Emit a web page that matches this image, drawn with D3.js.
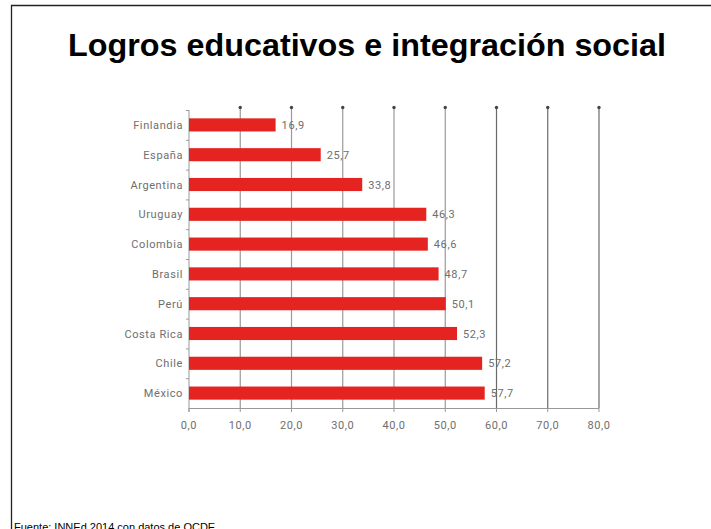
<!DOCTYPE html>
<html>
<head>
<meta charset="utf-8">
<script src="https://cdn.jsdelivr.net/npm/d3@7"></script>
<style>
  body { margin: 0; background: #fff; }
  svg { display: block; }
</style>
</head>
<body>
<svg width="711" height="529"></svg>
<script>
// datos
const countries = ["Finlandia", "España", "Argentina", "Uruguay", "Colombia", "Brasil", "Perú", "Costa Rica", "Chile", "México"]
const values = [16.9, 25.7, 33.8, 46.3, 46.6, 48.7, 50.1, 52.3, 57.2, 57.7]
const xTicks = [0, 10, 20, 30, 40, 50, 60, 70, 80]

const svg = d3.select('svg')
const fmt = v => d3.format('.1f')(v).replace('.', ',')

// marco de la diapositiva
svg.append('path')
    .attr('d', 'M11.5,529 V5.5 H711')
    .attr('fill', 'none')
    .attr('stroke', '#222')
    .attr('stroke-width', 1.3)

svg.append('text')
    .attr('x', 367)
    .attr('y', 56)
    .attr('text-anchor', 'middle')
    .attr('font-family', 'Liberation Sans, Arial, sans-serif')
    .attr('font-weight', 'bold')
    .attr('font-size', 30.5)
    .attr('textLength', 598)
    .attr('lengthAdjust', 'spacingAndGlyphs')
    .text('Logros educativos e integración social')

// la nota de fuente queda cortada por el borde inferior, como en el original
svg.append('text')
    .attr('x', 14)
    .attr('y', 530.5)
    .attr('font-family', 'Liberation Sans, Arial, sans-serif')
    .attr('font-size', 11)
    .text('Fuente: INNEd 2014 con datos de OCDE')

const x = d3.scaleLinear().domain([0, 80]).range([189, 599])
const y = d3.scaleBand().domain(countries).range([110, 408]).paddingInner(0.56).paddingOuter(0.28)
const yAxisScale = d3.scaleBand().domain(countries).range([110, 408])

const grey = '#6e6e6e'
const font = 'Roboto, "DejaVu Sans", sans-serif'

// lineas verticales con punto arriba
const grid = svg.append('g')
grid.selectAll('line')
    .data(xTicks.filter(d => d > 0))
    .enter()
    .append('line')
    .attr('x1', d => x(d)).attr('x2', d => x(d))
    .attr('y1', 107.5).attr('y2', 408)
    .attr('stroke', d => d >= 60 ? '#6a6a6a' : '#9a9a9a')
    .attr('stroke-width', 1.2)
grid.selectAll('circle')
    .data(xTicks.filter(d => d > 0))
    .enter()
    .append('circle')
    .attr('cx', d => x(d))
    .attr('cy', 107.5)
    .attr('r', 1.7)
    .attr('fill', '#444')

// eje y con marcas entre categorias
const yAx = svg.append('g')
yAx.append('line')
    .attr('x1', 189).attr('x2', 189)
    .attr('y1', 110).attr('y2', 412)
    .attr('stroke', '#999').attr('stroke-width', 1)
yAx.selectAll('line.tk')
    .data(countries)
    .enter()
    .append('line')
    .attr('class', 'tk')
    .attr('x1', 186).attr('x2', 189)
    .attr('y1', d => yAxisScale(d) + 0.5).attr('y2', d => yAxisScale(d) + 0.5)
    .attr('stroke', '#999')
yAx.selectAll('text')
    .data(countries)
    .enter()
    .append('text')
    .attr('x', 183)
    .attr('y', d => yAxisScale(d) + yAxisScale.bandwidth() / 2 + 4)
    .attr('text-anchor', 'end')
    .attr('font-family', font)
    .attr('font-size', 11)
    .attr('letter-spacing', 0.6)
    .attr('fill', grey)
    .text(d => d)

// eje x
const xAx = svg.append('g')
xAx.append('line')
    .attr('x1', 189).attr('x2', 599)
    .attr('y1', 408.5).attr('y2', 408.5)
    .attr('stroke', '#999')
xAx.selectAll('line.tk')
    .data(xTicks)
    .enter()
    .append('line')
    .attr('class', 'tk')
    .attr('x1', d => x(d)).attr('x2', d => x(d))
    .attr('y1', 408).attr('y2', 412)
    .attr('stroke', '#999')
xAx.selectAll('text')
    .data(xTicks)
    .enter()
    .append('text')
    .attr('x', d => x(d))
    .attr('y', 429)
    .attr('text-anchor', 'middle')
    .attr('font-family', font)
    .attr('font-size', 11)
    .attr('letter-spacing', 0.6)
    .attr('fill', grey)
    .text(fmt)

// barras
svg.append('g')
    .selectAll('rect')
    .data(countries)
    .enter()
    .append('rect')
    .attr('x', x(0))
    .attr('y', d => y(d))
    .attr('width', (d, i) => x(values[i]) - x(0))
    .attr('height', y.bandwidth())
    .attr('fill', '#e52421')

svg.append('g')
    .selectAll('text')
    .data(countries)
    .enter()
    .append('text')
    .attr('x', (d, i) => x(values[i]) + 6)
    .attr('y', d => y(d) + y.bandwidth() / 2 + 4)
    .attr('font-family', font)
    .attr('font-size', 11)
    .attr('letter-spacing', 0.6)
    .attr('fill', grey)
    .text((d, i) => fmt(values[i]))
</script>
</body>
</html>
